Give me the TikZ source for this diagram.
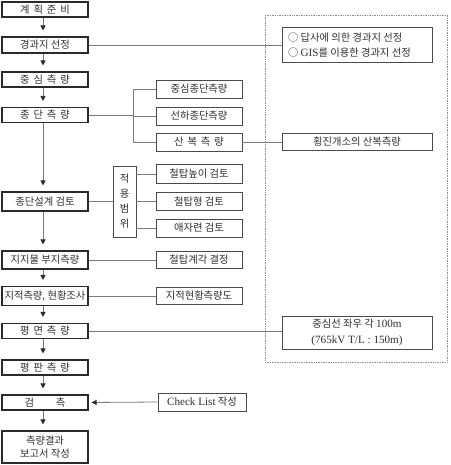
\documentclass[tikz,border=0pt]{standalone}
\usepackage{fontspec}
\setmainfont{Noto Sans CJK KR}
\newfontfamily\lat[Scale=1.08]{Liberation Serif}
\usetikzlibrary{arrows.meta}
\definecolor{txt}{HTML}{2E2E2E}
\definecolor{edgec}{HTML}{2A2A2A}
\definecolor{connc}{HTML}{7A7A7A}
\definecolor{dotc}{HTML}{8C8C8C}
\begin{document}
\begin{tikzpicture}[x=1pt,y=-1pt,
 every node/.style={font=\fontsize{10.3}{12}\selectfont, text=txt, inner sep=0pt},
 lbox/.style={draw=edgec, line width=1.1pt, minimum width=86pt, align=center},
 rbox/.style={draw=edgec!85, line width=0.8pt, minimum width=86pt, align=center},
 wbox/.style={draw=edgec!85, line width=0.8pt, minimum width=150pt, align=center},
 conn/.style={draw=connc, line width=0.8pt},
 flow/.style={conn, -{Triangle[width=5pt,length=5pt,fill=edgec,color=edgec]}, shorten >=6pt},
]
\useasboundingbox (0,0) rectangle (450,465);
% dotted frame
\draw[dotc, densely dotted, line width=0.7pt] (265,15) rectangle (447,362);

% left column
\node[lbox, minimum height=15pt] (n1) at (45,9.5) {계\hspace{4pt}획\hspace{4pt}준\hspace{4pt}비};
\node[lbox, minimum height=16pt] (n2) at (45,45) {경과지 선정};
\node[lbox, minimum height=15pt] (n3) at (45,79.5) {중\hspace{4pt}심\hspace{4pt}측\hspace{4pt}량};
\node[lbox, minimum height=15pt] (n4) at (45,115) {종\hspace{4pt}단\hspace{4pt}측\hspace{4pt}량};
\node[lbox, minimum height=19pt] (n5) at (45,201.5) {종단설계 검토};
\node[lbox, minimum height=18pt] (n6) at (45,260) {지지물 부지측량};
\node[lbox, minimum height=19pt] (n7) at (45,296) {지적측량{\lat,} 현황조사};
\node[lbox, minimum height=15pt] (n8) at (45,331) {평\hspace{4pt}면\hspace{4pt}측\hspace{4pt}량};
\node[lbox, minimum height=15pt] (n9) at (45,367.5) {평\hspace{4pt}판\hspace{4pt}측\hspace{4pt}량};
\node[lbox, minimum height=15pt] (n10) at (45,402.5) {검\hspace{22pt}측};
\node[lbox, minimum height=32pt, font=\fontsize{10.3}{13.5}\selectfont] (n11) at (45,447) {측량결과\\보고서 작성};

% middle column
\node[rbox, minimum height=18pt] (r1) at (199,89) {중심종단측량};
\node[rbox, minimum height=18pt] (r2) at (199,116) {선하종단측량};
\node[rbox, minimum height=18pt] (r3) at (199,142) {산\hspace{4pt}복\hspace{4pt}측\hspace{4pt}량};
\node[rbox, minimum width=23pt, minimum height=71pt, font=\fontsize{10.3}{15}\selectfont] (sc) at (124.5,201.5) {적\\용\\범\\위};
\node[rbox, minimum height=19pt] (r4) at (199,174) {철탑높이 검토};
\node[rbox, minimum height=18pt] (r5) at (199,201.5) {철탑형 검토};
\node[rbox, minimum height=18pt] (r6) at (199,228) {애자련 검토};
\node[rbox, minimum height=17pt] (r7) at (199,260) {철탑계각 결정};
\node[rbox, minimum height=17pt] (r8) at (199,296) {지적현황측량도};
\node[rbox, minimum width=88pt, minimum height=18pt] (ck) at (202,402) {{\lat Check List} 작성};

% right column
\node[wbox, minimum height=35pt] (g1) at (357,45) {\parbox{138pt}{\raggedright\fontsize{10.3}{15.5}\selectfont ○ 답사에 의한 경과지 선정\\○ {\lat GIS}를 이용한 경과지 선정}};
\node[wbox, minimum height=17pt] (g2) at (357,142) {횡진개소의 산복측량};
\node[wbox, minimum height=33pt, font=\fontsize{10.3}{15.5}\selectfont] (g3) at (357,332.5) {중심선 좌우 각 {\lat 100m}\\{\lat (765kV T/L : 150m)}};

% vertical flow arrows
\foreach \a/\b in {n1/n2,n2/n3,n3/n4,n4/n5,n5/n6,n6/n7,n7/n8,n8/n9,n9/n10,n10/n11}
  \draw[flow] ([xshift=-2pt]\a.south) -- ([xshift=-2pt]\b.north);

% side connectors
\coordinate (br) at (133,0);
\draw[conn] (n2.east) -- (g1.west);
\draw[conn] (n4.east) -- (n4.east -| br);
\draw[conn] (r1.west) -- (r1.west -| br) -- (r3.west -| br) -- (r3.west);
\draw[conn] (r2.west -| br) -- (r2.west);
\draw[conn] (r3.east) -- (g2.west);
\draw[conn] (n5.east) -- (sc.west);
\draw[conn] (sc.east |- r4.west) -- (r4.west);
\draw[conn] (sc.east |- r5.west) -- (r5.west);
\draw[conn] (sc.east |- r6.west) -- (r6.west);
\draw[conn] (n6.east) -- (r7.west);
\draw[conn] (n7.east) -- (r8.west);
\draw[conn] (n8.east) -- (n8.east -| g3.west);
\draw[flow, shorten >=3pt] (ck.west) -- (n10.east);
\end{tikzpicture}
\end{document}
